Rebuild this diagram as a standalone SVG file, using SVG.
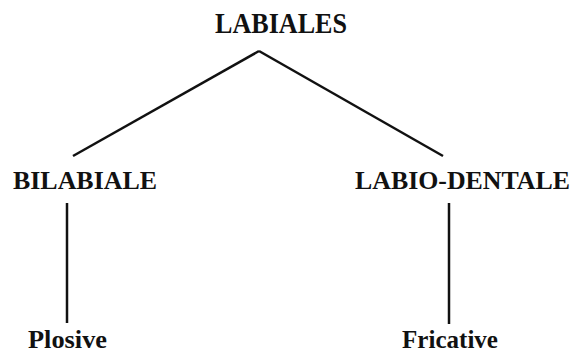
<svg xmlns="http://www.w3.org/2000/svg" width="574" height="354" viewBox="0 0 574 354">
<style>
text{font-family:"Liberation Serif","Times New Roman",serif;font-weight:bold;fill:#111;}
.t1{font-size:30px;}
.t2{font-size:25px;}
line{stroke:#111;stroke-width:2.5;fill:none;}
</style>
<rect width="574" height="354" fill="#fff"/>
<g id="connectors">
<line x1="259" y1="51" x2="73" y2="156"/>
<line x1="259" y1="51" x2="443" y2="156"/>
<line x1="67" y1="203" x2="67" y2="323"/>
<line x1="449" y1="203" x2="449" y2="324"/>
</g>
<g id="labiales"><text class="t1" x="215" y="33" textLength="132" lengthAdjust="spacingAndGlyphs">LABIALES</text></g>
<g id="bilabiale"><text class="t2" x="13" y="189" textLength="144" lengthAdjust="spacingAndGlyphs">BILABIALE</text></g>
<g id="labio-dentale"><text class="t2" x="355" y="189" textLength="215" lengthAdjust="spacingAndGlyphs">LABIO-DENTALE</text></g>
<g id="plosive"><text class="t2" x="28" y="348" textLength="79" lengthAdjust="spacingAndGlyphs">Plosive</text></g>
<g id="fricative"><text class="t2" x="402" y="348" textLength="96" lengthAdjust="spacingAndGlyphs">Fricative</text></g>
</svg>
